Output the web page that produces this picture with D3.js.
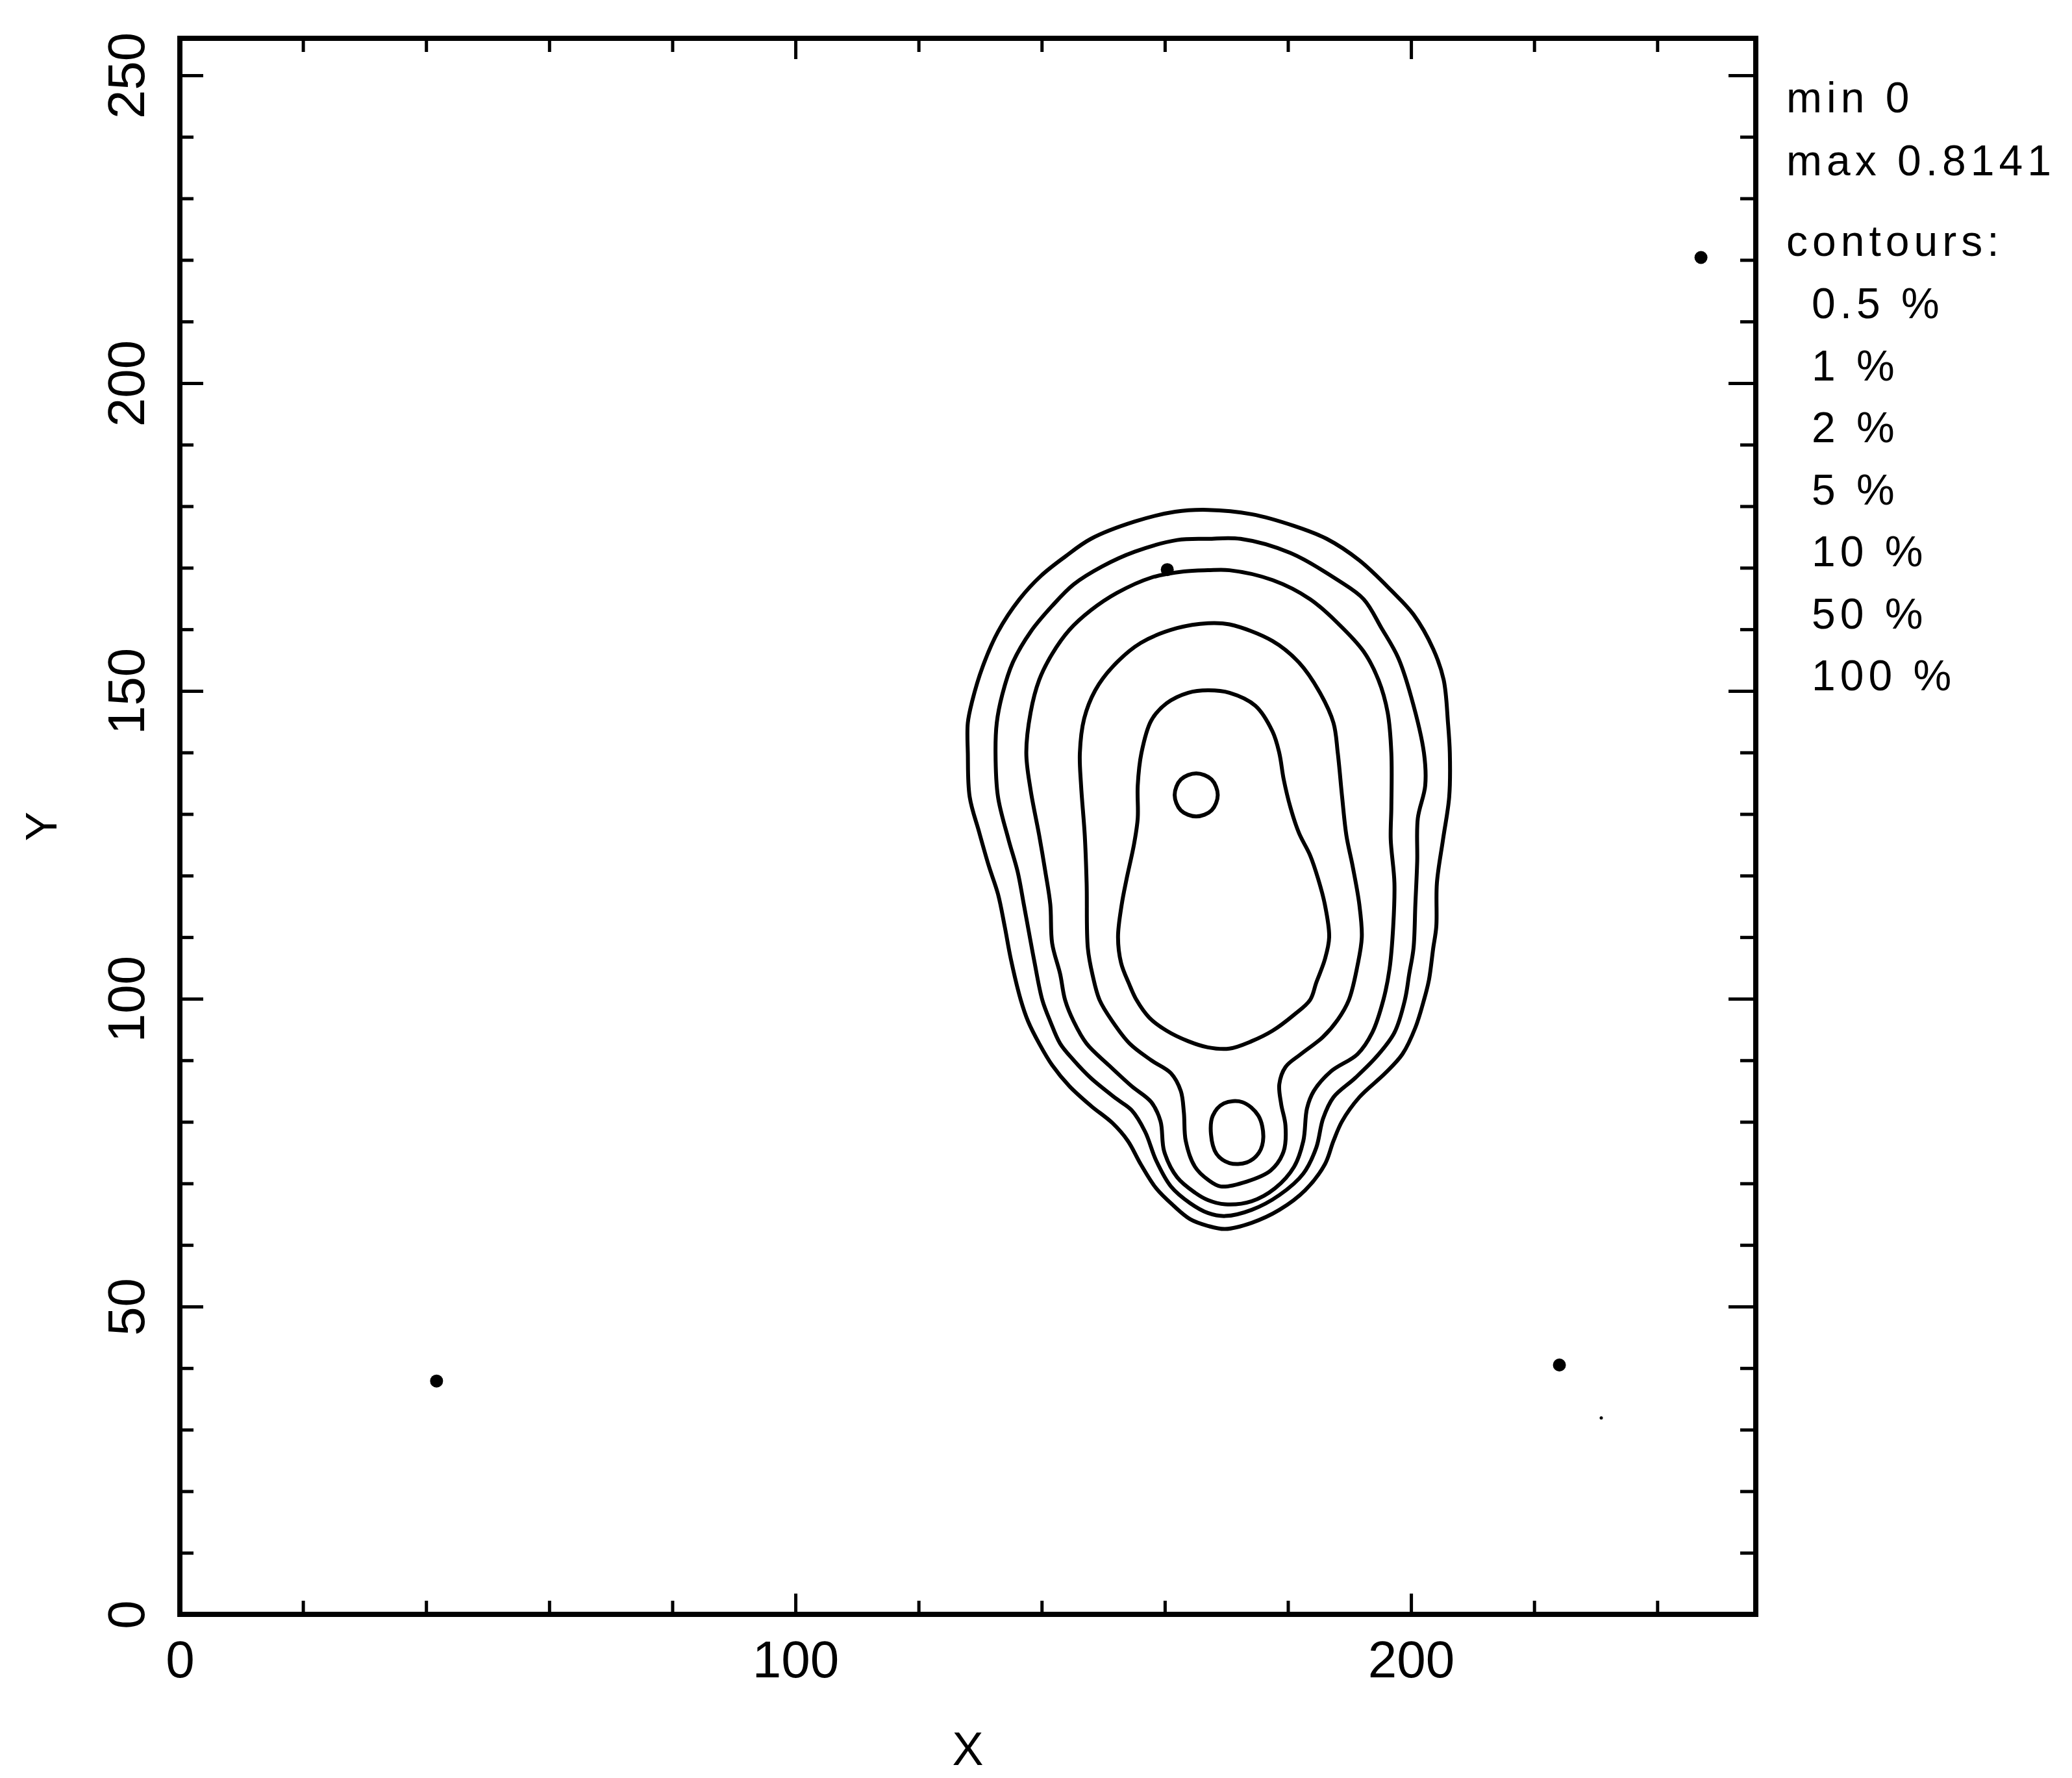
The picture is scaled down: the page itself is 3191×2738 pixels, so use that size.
<!DOCTYPE html>
<html>
<head>
<meta charset="utf-8">
<script src="https://cdn.jsdelivr.net/npm/d3@7"></script>
<style>
  body { margin: 0; background: #fff; }
  svg text { font-family: "Liberation Sans", Arial, sans-serif; fill: #000; }
</style>
</head>
<body>
<svg id="chart" width="3191" height="2738"></svg>
<script>
// axis ticks
var xMajorTicks = [0, 100, 200];
var xMinorTicks = [20, 40, 60, 80, 120, 140, 160, 180, 220, 240];
var yMajorTicks = [0, 50, 100, 150, 200, 250];
var yMinorTicks = [10, 20, 30, 40, 60, 70, 80, 90, 110, 120, 130, 140, 160, 170, 180, 190, 210, 220, 230, 240];

// text at the right
var infoLines = ["min 0", "max 0.8141", "contours:"];
var contourLabels = ["0.5 %", "1 %", "2 %", "5 %", "10 %", "50 %", "100 %"];

// contour lines, [x, y]
var contour05 = [[167.0,179.4],[174.1,178.7],[181.0,176.8],[186.3,174.7],[191.6,171.2],[196.8,166.3],[200.4,162.4],[203.6,156.8],[205.3,151.8],[206.0,144.8],[206.3,139.9],[206.2,132.8],[205.2,125.9],[204.2,118.8],[204.1,111.7],[203.6,108.2],[202.9,103.0],[202.1,99.8],[200.7,95.3],[198.6,91.0],[195.8,87.9],[191.6,84.0],[188.8,80.1],[187.4,76.9],[186.0,73.1],[182.8,68.9],[178.6,65.7],[174.1,63.6],[169.8,62.6],[167.0,63.1],[164.1,64.2],[161.4,66.4],[158.6,69.2],[156.1,73.1],[154.0,76.9],[151.5,79.8],[148.0,82.6],[144.5,85.8],[141.7,89.2],[139.6,92.7],[137.8,96.3],[136.6,99.8],[135.0,106.4],[134.0,111.7],[132.9,117.0],[131.4,121.6],[129.8,127.2],[128.3,132.8],[128.0,139.9],[128.0,144.8],[128.7,148.3],[130.4,153.9],[132.9,159.6],[136.4,164.9],[139.9,168.7],[143.8,171.8],[148.0,174.7],[155.1,177.5],[161.7,179.1]];

var contour1 = [[167.0,174.7],[172.3,174.7],[180.4,172.4],[188.1,168.0],[192.3,164.9],[195.2,160.2],[197.9,155.4],[200.0,149.1],[202.1,139.9],[202.3,134.6],[201.1,129.3],[201.0,122.3],[200.7,115.3],[200.4,108.2],[199.7,104.0],[199.0,99.8],[197.3,94.5],[194.4,90.6],[190.9,87.1],[187.4,84.0],[185.7,80.5],[184.6,75.8],[182.5,71.6],[178.6,68.1],[174.1,65.7],[169.8,64.7],[167.0,65.2],[164.1,66.8],[161.0,69.5],[158.6,73.7],[156.8,78.4],[154.6,81.9],[152.2,83.7],[148.0,87.1],[145.2,90.0],[143.0,92.7],[141.4,96.3],[140.1,99.8],[138.8,106.1],[138.2,109.3],[137.1,115.3],[136.1,120.6],[134.6,125.9],[132.9,132.8],[132.5,139.9],[132.7,144.8],[133.6,149.4],[135.3,154.6],[138.2,159.6],[141.7,163.8],[145.2,167.3],[149.8,170.2],[155.1,172.6],[162.0,174.5]];

var contour2 = [[167.0,169.6],[170.5,169.6],[177.5,168.0],[183.6,164.9],[188.1,161.0],[192.3,156.4],[194.7,151.8],[196.2,146.5],[196.8,139.9],[196.8,131.1],[196.7,125.9],[197.3,118.8],[197.1,111.7],[196.5,104.8],[195.5,99.8],[193.7,94.5],[191.3,91.0],[187.0,88.2],[184.2,85.0],[183.1,82.2],[182.5,76.9],[181.0,72.7],[177.9,69.2],[174.1,67.1],[169.8,66.6],[167.0,67.3],[164.9,68.5],[162.0,71.0],[159.9,75.2],[159.3,80.1],[157.8,83.2],[154.6,85.8],[150.9,89.2],[147.3,92.7],[145.2,96.3],[143.8,99.8],[143.0,104.0],[141.7,109.0],[141.4,115.3],[140.6,120.6],[139.6,126.5],[138.2,133.9],[137.5,139.9],[138.2,146.5],[139.6,151.8],[141.7,156.0],[144.5,159.9],[148.0,163.1],[152.2,165.9],[157.8,168.4],[163.1,169.4]];

var contour5 = [[167.0,161.0],[170.5,160.8],[177.5,158.1],[181.8,154.6],[185.2,149.7],[187.4,144.8],[188.1,139.9],[188.8,132.8],[189.5,126.5],[190.5,121.6],[191.6,115.3],[192.0,110.0],[191.3,105.4],[189.9,99.8],[188.1,96.6],[185.7,93.8],[182.1,91.0],[179.6,88.9],[178.6,86.1],[178.9,82.9],[179.6,79.4],[179.3,75.2],[177.2,72.1],[173.3,70.3],[169.1,69.5],[167.0,70.6],[164.9,72.7],[163.4,76.9],[163.1,81.5],[162.6,85.0],[161.0,87.9],[157.8,90.0],[154.3,92.7],[151.5,96.3],[149.4,99.8],[148.3,103.7],[147.5,108.2],[147.3,118.8],[147.0,126.5],[146.4,134.6],[146.2,139.9],[146.9,145.5],[148.7,150.1],[151.5,153.9],[156.1,157.8],[162.0,160.2]];

var contour10 = [[167.0,150.1],[170.5,149.7],[174.7,147.6],[177.5,143.4],[178.6,139.9],[179.3,135.7],[180.4,131.1],[181.8,126.9],[183.6,123.3],[184.9,119.5],[186.0,115.3],[186.7,110.0],[186.0,106.4],[184.6,102.6],[183.6,99.8],[181.0,97.4],[177.5,94.8],[174.1,93.1],[170.5,91.9],[167.0,92.1],[163.8,93.1],[160.3,94.8],[157.5,96.9],[155.4,99.8],[154.2,102.4],[152.9,105.8],[152.4,110.0],[153.0,115.3],[153.8,119.5],[155.0,125.1],[155.6,129.3],[155.6,134.6],[156.2,139.9],[157.8,145.2],[160.3,148.0],[163.8,149.7]];

var contour50a = [[161.6,133.1],[162.6,135.6],[165.1,136.6],[167.6,135.6],[168.6,133.1],[167.6,130.6],[165.1,129.6],[162.6,130.6]];
var contour50b = [[169.6,83.0],[172.6,83.2],[175.2,81.0],[176.0,77.5],[175.3,75.0],[173.3,73.4],[170.5,73.3],[168.4,74.8],[167.5,78.0],[167.8,81.0]];

// small isolated peaks
var peaks = [[41.7,37.9],[224.1,40.5],[247.1,220.4],[160.4,169.7]];
var specks = [[230.9,31.9]];

var svg = d3.select('#chart');

var x = d3.scaleLinear().domain([0, 256]).range([277, 2704]);
var y = d3.scaleLinear().domain([0, 256]).range([2486, 59]);

var minorLen = 21, majorLen = 36;

//* ticks on all four sides, pointing in
function tickAxis(axis, values, len, pos, labels) {
  var g = svg.append('g')
    .attr('transform', pos)
    .call(axis.tickValues(values).tickSize(-len).tickSizeOuter(0)
      .tickFormat(labels ? d3.format('d') : ''));
  g.select('.domain').remove();
  g.selectAll('.tick line').attr('stroke', '#000').attr('stroke-width', 5);
  return g;
}

tickAxis(d3.axisBottom(x), xMinorTicks, minorLen, 'translate(0,2486)', false);
var xLab = tickAxis(d3.axisBottom(x), xMajorTicks, majorLen - 4, 'translate(0,2486)', true);
xLab.selectAll('text')
  .attr('y', 97).attr('dy', 0)
  .style('font-size', '80px');

tickAxis(d3.axisTop(x), xMinorTicks, minorLen, 'translate(0,59)', false);
tickAxis(d3.axisTop(x), xMajorTicks, majorLen - 4, 'translate(0,59)', false);

tickAxis(d3.axisLeft(y), yMinorTicks, minorLen, 'translate(277,0)', false);
var yLab = tickAxis(d3.axisLeft(y), yMajorTicks, majorLen, 'translate(277,0)', true);
yLab.selectAll('text')
  .attr('transform', 'rotate(-90)')
  .attr('x', 0).attr('y', -55).attr('dy', 0)
  .style('text-anchor', 'middle')
  .style('font-size', '80px');

tickAxis(d3.axisRight(y), yMinorTicks, minorLen + 3, 'translate(2704,0)', false);
tickAxis(d3.axisRight(y), yMajorTicks, majorLen + 6, 'translate(2704,0)', false);

//* frame
svg.append('rect')
  .attr('x', x(0)).attr('y', y(256))
  .attr('width', x(256) - x(0)).attr('height', y(0) - y(256))
  .attr('fill', 'none').attr('stroke', '#000').attr('stroke-width', 8);

//* contours
var contourLine = d3.line()
  .x(function (d) { return x(d[0]); })
  .y(function (d) { return y(d[1]); })
  .curve(d3.curveCatmullRomClosed.alpha(0.5));

var contours = [contour05, contour1, contour2, contour5, contour10, contour50a, contour50b];
svg.selectAll('.contour')
  .data(contours)
  .enter().append('path')
  .attr('class', 'contour')
  .attr('d', contourLine)
  .attr('fill', 'none')
  .attr('stroke', '#000')
  .attr('stroke-width', 6)
  .attr('stroke-linejoin', 'round');

svg.selectAll('.peak')
  .data(peaks)
  .enter().append('circle')
  .attr('class', 'peak')
  .attr('cx', function (d) { return x(d[0]); })
  .attr('cy', function (d) { return y(d[1]); })
  .attr('r', 10)
  .attr('fill', '#000');

svg.selectAll('.speck')
  .data(specks)
  .enter().append('circle')
  .attr('class', 'speck')
  .attr('cx', function (d) { return x(d[0]); })
  .attr('cy', function (d) { return y(d[1]); })
  .attr('r', 2.5)
  .attr('fill', '#000');

//* axis titles
svg.append('text')
  .attr('x', (x(0) + x(256)) / 2).attr('y', 2718)
  .style('text-anchor', 'middle')
  .style('font-size', '72px')
  .text('X');

svg.append('text')
  .attr('transform', 'translate(87,' + (y(0) + y(256)) / 2 + ') rotate(-90)')
  .style('text-anchor', 'middle')
  .style('font-size', '68px')
  .text('Y');

//* min / max / contour levels
var info = svg.append('g').attr('class', 'info');
info.selectAll('.infoLine')
  .data(infoLines)
  .enter().append('text')
  .attr('class', 'infoLine')
  .attr('x', 2751)
  .attr('y', function (d, i) { return [173, 270, 394][i]; })
  .style('font-size', '66px')
  .style('letter-spacing', '7px')
  .text(function (d) { return d; });

info.selectAll('.levelLine')
  .data(contourLabels)
  .enter().append('text')
  .attr('class', 'levelLine')
  .attr('x', 2790)
  .attr('y', function (d, i) { return 490 + i * 95.5; })
  .style('font-size', '66px')
  .style('letter-spacing', '7px')
  .style('white-space', 'pre')
  .text(function (d) { return d; });
</script>
</body>
</html>
